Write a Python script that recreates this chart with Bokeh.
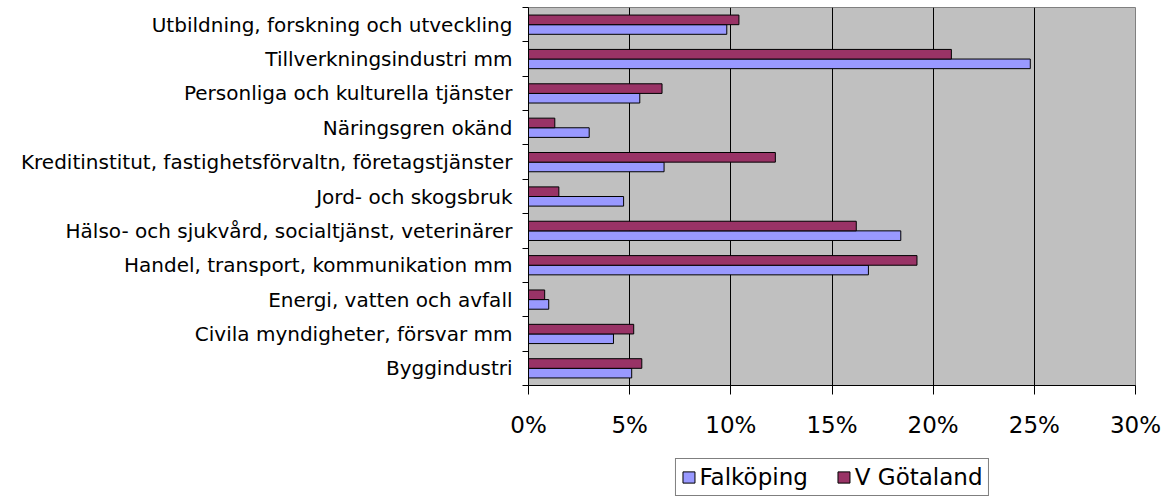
from bokeh.plotting import figure
from bokeh.layouts import column
from bokeh.models import (ColumnDataSource, FixedTicker, PrintfTickFormatter,
                          Legend, LegendItem, Range1d)
from bokeh.transform import dodge
from bokeh.embed import file_html
from bokeh.resources import INLINE

# Categories, bottom to top as in the chart
categories = [
    "Byggindustri",
    "Civila myndigheter, försvar mm",
    "Energi, vatten och avfall",
    "Handel, transport, kommunikation mm",
    "Hälso- och sjukvård, socialtjänst, veterinärer",
    "Jord- och skogsbruk",
    "Kreditinstitut, fastighetsförvaltn, företagstjänster",
    "Näringsgren okänd",
    "Personliga och kulturella tjänster",
    "Tillverkningsindustri mm",
    "Utbildning, forskning och utveckling",
]
falkoping = [5.1, 4.2, 1.0, 16.8, 18.4, 4.7, 6.7, 3.0, 5.5, 24.8, 9.8]
v_gotaland = [5.6, 5.2, 0.8, 19.2, 16.2, 1.5, 12.2, 1.3, 6.6, 20.9, 10.4]
x_ticks = [0, 5, 10, 15, 20, 25, 30]
series_names = ["Falköping", "V Götaland"]
series_colors = ["#9999FF", "#993366"]

FONT = "DejaVu Sans"
W = 1173

pos = [i + 0.5 for i in range(len(categories))]
src = ColumnDataSource(dict(y=pos, falk=falkoping, vg=v_gotaland, cat=categories))

p = figure(width=W, height=450,
           x_range=Range1d(x_ticks[0], x_ticks[-1]),
           y_range=Range1d(0, len(categories)),
           output_backend="svg", toolbar_location=None,
           min_border_left=528, min_border_right=38,
           min_border_top=7, min_border_bottom=65)

p.background_fill_color = "#C0C0C0"
p.border_fill_color = "white"
p.outline_line_color = "#808080"
p.outline_line_width = 1

p.hbar(y=dodge("y", -0.14, range=p.y_range), right="falk", left=0, height=0.28,
       source=src, fill_color=series_colors[0], line_color="black", line_width=1)
p.hbar(y=dodge("y", 0.14, range=p.y_range), right="vg", left=0, height=0.28,
       source=src, fill_color=series_colors[1], line_color="black", line_width=1)

# x axis
p.xaxis.ticker = FixedTicker(ticks=x_ticks)
p.xaxis.formatter = PrintfTickFormatter(format="%d%%")
p.xaxis.major_tick_out = 9
p.xaxis.major_tick_in = 0
p.xaxis.minor_tick_out = 0
p.xaxis.minor_tick_in = 0
p.xaxis.major_label_standoff = 17
p.xaxis.major_label_text_font = FONT
p.xaxis.major_label_text_font_size = "23px"
p.xaxis.major_label_text_color = "black"
p.xaxis.axis_line_color = "black"

# y axis
p.yaxis.ticker = FixedTicker(ticks=pos, minor_ticks=list(range(len(categories) + 1)))
p.yaxis.major_label_overrides = {y: c for y, c in zip(pos, categories)}
p.yaxis.major_tick_out = 0
p.yaxis.major_tick_in = 0
p.yaxis.minor_tick_out = 6
p.yaxis.minor_tick_in = 0
p.yaxis.major_label_standoff = 10
p.yaxis.major_label_text_font = FONT
p.yaxis.major_label_text_font_size = "20px"
p.yaxis.major_label_text_color = "black"
p.yaxis.axis_line_color = "black"

# grid
p.xgrid.ticker = FixedTicker(ticks=x_ticks)
p.xgrid.grid_line_color = "black"
p.xgrid.grid_line_width = 1
p.ygrid.grid_line_color = None

# legend strip below the chart; its swatch renderers are zero-size and hidden
# beneath the (opaque) legend box
pl = figure(width=W, height=46, x_range=Range1d(0, 1), y_range=Range1d(0, 1),
            output_backend="svg", toolbar_location=None,
            x_axis_type=None, y_axis_type=None,
            min_border_left=528, min_border_right=38,
            min_border_top=0, min_border_bottom=0)
pl.outline_line_color = None
pl.background_fill_color = "white"
pl.border_fill_color = "white"
lr = [pl.hbar(y=[0.5], left=[0.5], right=[0.5], height=0.0, fill_color=c,
              line_color="black", line_width=1) for c in series_colors]

legend = Legend(items=[LegendItem(label=n, renderers=[r]) for n, r in zip(series_names, lr)],
                orientation="horizontal", location="top_center",
                border_line_color="black", border_line_width=1,
                background_fill_color="white", background_fill_alpha=1,
                label_text_font=FONT, label_text_font_size="23px",
                label_text_color="black",
                glyph_width=15, glyph_height=14, label_standoff=4,
                spacing=28, padding=5, margin=8)
pl.add_layout(legend, "center")

layout = column(p, pl, spacing=0)
open("out.html", "w").write(file_html(layout, INLINE))
